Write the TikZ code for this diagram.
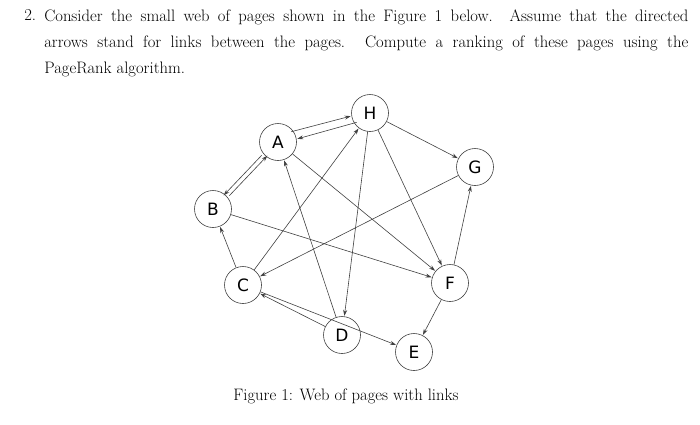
\documentclass[tikz,border=0pt]{standalone}
\usepackage{fontspec}
\newfontfamily\nodefont{DejaVu Sans}
\usetikzlibrary{arrows.meta}
\begin{document}
\begin{tikzpicture}[x=1pt, y=-1pt, >={Stealth[length=6pt,width=4pt]}, line width=0.6pt,
  page/.style={circle, draw=black!75, fill=white, minimum size=37pt, inner sep=0pt, font=\nodefont\fontsize{17}{17}\selectfont},
  link/.style={->, draw=black!75, shorten >=0.5pt}]

% Frame
\useasboundingbox (0,0) rectangle (700,424);

% Question text
\node[anchor=north west, inner sep=0pt, font=\fontsize{16.6}{26}\selectfont] (number) at (24,9) {2.};
\node[anchor=north west, inner sep=0pt, text width=644pt, align=justify,
  font=\fontsize{16.6}{26}\selectfont] (question) at (44,9)
  {Consider the small web of pages shown in the Figure 1 below. Assume that the directed\linebreak arrows stand for links between the pages. Compute a ranking of these pages using the\linebreak PageRank algorithm.};

% Pages
\node[page] (H) at (370,113) {H};
\node[page] (A) at (278,142) {A};
\node[page] (G) at (475,167) {G};
\node[page] (B) at (213,209) {B};
\node[page] (C) at (243,285) {C};
\node[page] (F) at (450,283) {F};
\node[page] (D) at (342,335) {D};
\node[page] (E) at (414,352) {E};

% Links
\draw[link] ([yshift=-3pt]A.north east) -- ([yshift=-3pt]H.west);
\draw[link] ([yshift=4pt]H.south west) -- ([yshift=3pt]A.east);
\draw[link] ([xshift=-3pt]A.south west) -- ([xshift=-3pt]B.north east);
\draw[link] ([xshift=3pt]B.north east) -- ([xshift=3pt]A.south west);
\draw[link] (H) -- (G);
\draw[link] (H) -- (F);
\draw[link] (H) -- (D);
\draw[link] (C) -- (H);
\draw[link] (A) -- (F);
\draw[link] (B) -- (F);
\draw[link] (G) -- (C);
\draw[link] (C) -- (B);
\draw[link] (D) -- (A);
\draw[link] (D) -- (C);
\draw[link] (C) -- (E);
\draw[link] (F) -- (G);
\draw[link] (F) -- (E);

% Caption
\node[font=\fontsize{16.6}{20}\selectfont] (caption) at (346,396) {Figure 1: Web of pages with links};

\end{tikzpicture}
\end{document}
